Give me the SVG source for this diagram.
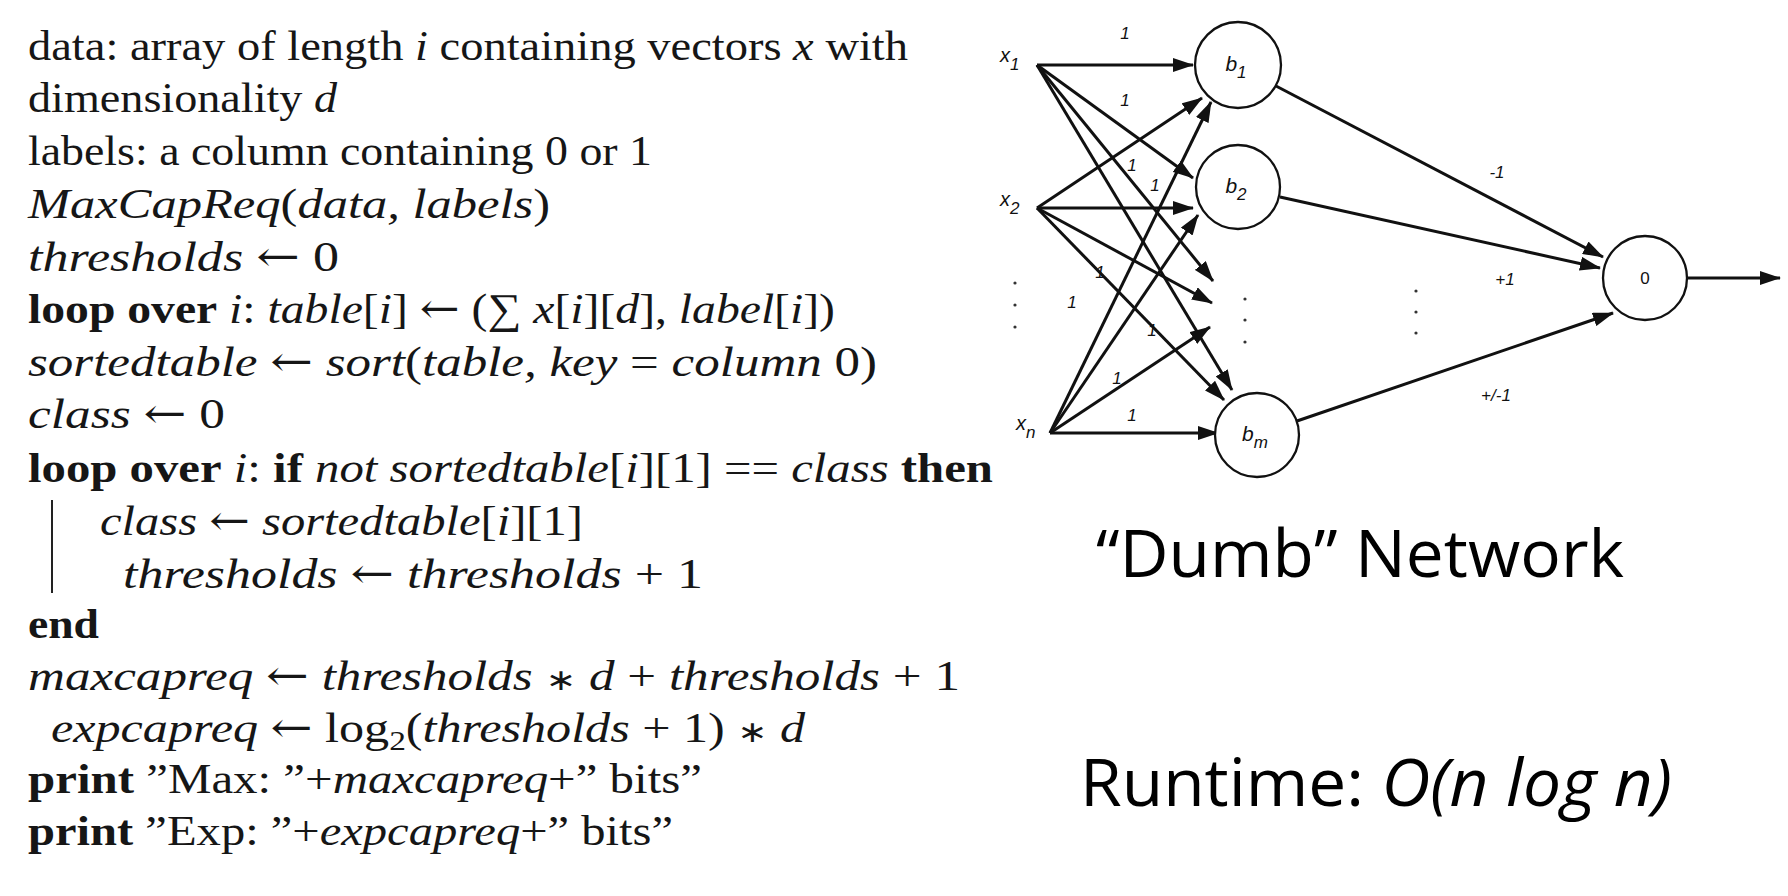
<svg xmlns="http://www.w3.org/2000/svg" width="1788" height="896" viewBox="0 0 1788 896">
<defs>
<marker id="ah" markerUnits="userSpaceOnUse" markerWidth="21" markerHeight="14" refX="20" refY="7" orient="auto">
<path d="M0,0 L21,7 L0,14 z" fill="#111"/>
</marker>
<style>
.alg{font-family:"Liberation Serif","Times New Roman",serif;font-size:42px;fill:#161616}
.i{font-style:italic}
.b{font-weight:bold}
.ar{font-family:"DejaVu Serif",serif;font-style:normal}
.st{font-family:"DejaVu Sans",sans-serif;font-size:30px}
.net{font-family:"Liberation Sans",Arial,sans-serif;font-size:17px;font-style:italic;fill:#111}
.node{fill:#fff;stroke:#111;stroke-width:2.3}
.edge{stroke:#111;stroke-width:3;fill:none}
.arr{marker-end:url(#ah)}
.big{font-family:"Open Sans","Noto Sans",sans-serif;font-size:66px;fill:#000}
.dot{fill:#333}
</style>
</defs>
<rect width="1788" height="896" fill="#fff"/>

<g id="algorithm" class="alg">
<text x="28" y="60" textLength="880" lengthAdjust="spacingAndGlyphs">data: array of length <tspan class="i">i</tspan> containing vectors <tspan class="i">x</tspan> with</text>
<text x="28" y="112" textLength="309" lengthAdjust="spacingAndGlyphs">dimensionality <tspan class="i">d</tspan></text>
<text x="28" y="165" textLength="624" lengthAdjust="spacingAndGlyphs">labels: a column containing 0 or 1</text>
<text x="28" y="218" textLength="522" lengthAdjust="spacingAndGlyphs"><tspan class="i">MaxCapReq</tspan>(<tspan class="i">data, labels</tspan>)</text>
<text x="28" y="271" textLength="311" lengthAdjust="spacingAndGlyphs"><tspan class="i">thresholds</tspan> <tspan class="ar">←</tspan> 0</text>
<text x="28" y="323" textLength="807" lengthAdjust="spacingAndGlyphs"><tspan class="b">loop over</tspan> <tspan class="i">i</tspan>: <tspan class="i">table</tspan>[<tspan class="i">i</tspan>] <tspan class="ar">←</tspan> (∑ <tspan class="i">x</tspan>[<tspan class="i">i</tspan>][<tspan class="i">d</tspan>], <tspan class="i">label</tspan>[<tspan class="i">i</tspan>])</text>
<text x="28" y="376" textLength="849" lengthAdjust="spacingAndGlyphs"><tspan class="i">sortedtable</tspan> <tspan class="ar">←</tspan> <tspan class="i">sort</tspan>(<tspan class="i">table, key</tspan> = <tspan class="i">column</tspan> 0)</text>
<text x="28" y="428" textLength="197" lengthAdjust="spacingAndGlyphs"><tspan class="i">class</tspan> <tspan class="ar">←</tspan> 0</text>
<text x="28" y="482" textLength="965" lengthAdjust="spacingAndGlyphs"><tspan class="b">loop over</tspan> <tspan class="i">i</tspan>: <tspan class="b">if</tspan> <tspan class="i">not sortedtable</tspan>[<tspan class="i">i</tspan>][1] == <tspan class="i">class</tspan> <tspan class="b">then</tspan></text>
<line x1="52" y1="500" x2="52" y2="593" stroke="#222" stroke-width="2"/>
<text x="100" y="535" textLength="483" lengthAdjust="spacingAndGlyphs"><tspan class="i">class</tspan> <tspan class="ar">←</tspan> <tspan class="i">sortedtable</tspan>[<tspan class="i">i</tspan>][1]</text>
<text x="123" y="588" textLength="580" lengthAdjust="spacingAndGlyphs"><tspan class="i">thresholds</tspan> <tspan class="ar">←</tspan> <tspan class="i">thresholds</tspan> + 1</text>
<text x="28" y="638" textLength="71" lengthAdjust="spacingAndGlyphs" class="b">end</text>
<text x="28" y="690" textLength="932" lengthAdjust="spacingAndGlyphs"><tspan class="i">maxcapreq</tspan> <tspan class="ar">←</tspan> <tspan class="i">thresholds</tspan> <tspan class="st">∗</tspan> <tspan class="i">d</tspan> + <tspan class="i">thresholds</tspan> + 1</text>
<text x="51" y="742" textLength="754" lengthAdjust="spacingAndGlyphs"><tspan class="i">expcapreq</tspan> <tspan class="ar">←</tspan> log<tspan dy="8" font-size="28">2</tspan><tspan dy="-8">(</tspan><tspan class="i">thresholds</tspan> + 1) <tspan class="st">∗</tspan> <tspan class="i">d</tspan></text>
<text x="28" y="793" textLength="674" lengthAdjust="spacingAndGlyphs"><tspan class="b">print</tspan> ”Max: ”+<tspan class="i">maxcapreq</tspan>+” bits”</text>
<text x="28" y="845" textLength="645" lengthAdjust="spacingAndGlyphs"><tspan class="b">print</tspan> ”Exp: ”+<tspan class="i">expcapreq</tspan>+” bits”</text>
</g>

<g id="connectors">
<line class="edge arr" x1="1037" y1="65" x2="1193" y2="65"/>
<line class="edge arr" x1="1037" y1="65" x2="1193" y2="178"/>
<line class="edge arr" x1="1037" y1="65" x2="1213" y2="281"/>
<line class="edge arr" x1="1037" y1="65" x2="1232" y2="390"/>
<line class="edge arr" x1="1037" y1="208" x2="1202" y2="98"/>
<line class="edge arr" x1="1037" y1="208" x2="1193" y2="208"/>
<line class="edge arr" x1="1037" y1="208" x2="1212" y2="303"/>
<line class="edge arr" x1="1037" y1="208" x2="1224" y2="400"/>
<line class="edge arr" x1="1050" y1="433" x2="1211" y2="102"/>
<line class="edge arr" x1="1050" y1="433" x2="1198" y2="215"/>
<line class="edge arr" x1="1050" y1="433" x2="1210" y2="327"/>
<line class="edge arr" x1="1050" y1="433" x2="1218" y2="433"/>
<line class="edge arr" x1="1276" y1="86" x2="1603" y2="257"/>
<line class="edge arr" x1="1280" y1="197" x2="1600" y2="268"/>
<line class="edge arr" x1="1297" y1="421" x2="1613" y2="313"/>
<line class="edge arr" x1="1687" y1="278" x2="1780" y2="278"/>
</g>

<g id="edge-labels" class="net">
<text x="1125" y="39" text-anchor="middle">1</text>
<text x="1125" y="106" text-anchor="middle">1</text>
<text x="1132" y="171" text-anchor="middle">1</text>
<text x="1155" y="191" text-anchor="middle">1</text>
<text x="1100" y="278" text-anchor="middle">1</text>
<text x="1072" y="308" text-anchor="middle">1</text>
<text x="1152" y="336" text-anchor="middle">1</text>
<text x="1117" y="384" text-anchor="middle">1</text>
<text x="1132" y="421" text-anchor="middle">1</text>
<text x="1497" y="178" text-anchor="middle">-1</text>
<text x="1505" y="285" text-anchor="middle">+1</text>
<text x="1496" y="401" text-anchor="middle">+/-1</text>
</g>

<g id="input-x1" class="net"><text x="1000" y="62" font-size="20">x<tspan dy="8" font-size="17">1</tspan></text></g>
<g id="input-x2" class="net"><text x="1000" y="206" font-size="20">x<tspan dy="8" font-size="17">2</tspan></text></g>
<g id="input-xn" class="net"><text x="1016" y="430" font-size="20">x<tspan dy="8" font-size="17">n</tspan></text></g>

<g id="dots">
<circle class="dot" cx="1015" cy="283" r="1.6"/><circle class="dot" cx="1015" cy="305" r="1.6"/><circle class="dot" cx="1015" cy="327" r="1.6"/>
<circle class="dot" cx="1245" cy="299" r="1.6"/><circle class="dot" cx="1245" cy="320" r="1.6"/><circle class="dot" cx="1245" cy="342" r="1.6"/>
<circle class="dot" cx="1416" cy="291" r="1.6"/><circle class="dot" cx="1416" cy="312" r="1.6"/><circle class="dot" cx="1416" cy="333" r="1.6"/>
</g>

<g id="node-b1"><circle class="node" cx="1238" cy="65" r="43"/><text class="net" x="1236" y="71" style="font-size:21px" text-anchor="middle">b<tspan dy="7" style="font-size:17px">1</tspan></text></g>
<g id="node-b2"><circle class="node" cx="1238" cy="187" r="42"/><text class="net" x="1236" y="193" style="font-size:21px" text-anchor="middle">b<tspan dy="7" style="font-size:17px">2</tspan></text></g>
<g id="node-bm"><circle class="node" cx="1257" cy="435" r="42"/><text class="net" x="1255" y="441" style="font-size:21px" text-anchor="middle">b<tspan dy="7" style="font-size:17px">m</tspan></text></g>
<g id="node-out"><circle class="node" cx="1645" cy="278" r="42"/><text class="net" x="1645" y="284" style="font-style:normal" text-anchor="middle">0</text></g>

<g id="title"><text class="big" x="1096" y="577" textLength="528" lengthAdjust="spacingAndGlyphs">“Dumb” Network</text></g>
<g id="runtime"><text class="big" x="1080" y="806" textLength="592" lengthAdjust="spacingAndGlyphs">Runtime: <tspan font-style="italic">O(n log n)</tspan></text></g>
</svg>
